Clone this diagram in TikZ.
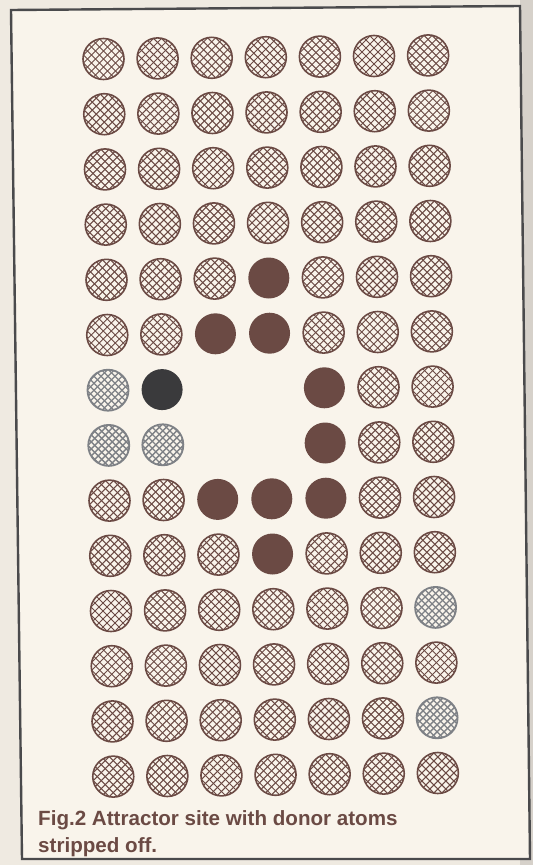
\documentclass[tikz,border=0pt]{standalone}
\usepackage{fontspec}
\setmainfont{Liberation Sans}
\definecolor{paper}{HTML}{F9F4EB}
\definecolor{outside}{HTML}{EFEAE1}
\definecolor{rstrip}{HTML}{D6D1CA}
\definecolor{frame}{HTML}{4A4A4C}
\definecolor{ink}{HTML}{6B4A44}
\definecolor{grayink}{HTML}{7E8186}
\definecolor{darkatom}{HTML}{3A3A3C}
\tikzset{
  atom/.style={circle, minimum size=41pt, inner sep=0pt, line width=1.6pt},
  hatchb/.style={atom, draw=ink, path picture={
      \foreach \k in {-6,...,6}{
        \draw[line width=1pt, draw=ink] ([shift={(\k*8-30,-30)}]path picture bounding box.center) -- ++(60,60);
        \draw[line width=1pt, draw=ink] ([shift={(\k*8-30,30)}]path picture bounding box.center) -- ++(60,-60);
      }}},
  grayb/.style={atom, draw=grayink, line width=1.8pt, path picture={
      \foreach \k in {-6,...,6}{
        \draw[line width=1.3pt, draw=grayink] ([shift={(\k*7-30,-30)}]path picture bounding box.center) -- ++(60,60);
        \draw[line width=1.3pt, draw=grayink] ([shift={(\k*7-30,30)}]path picture bounding box.center) -- ++(60,-60);
      }}},
  solidb/.style={atom, fill=ink},
  darkb/.style={atom, fill=darkatom},
  capt/.style={anchor=base west, inner sep=0pt, text=ink, font=\fontsize{20.6}{24}\selectfont\bfseries},
  % special cells
  k4-3/.style={solidb},
  k5-2/.style={solidb}, k5-3/.style={solidb},
  k6-0/.style={grayb}, k6-1/.style={darkb}, k6-4/.style={solidb},
  k7-0/.style={grayb}, k7-1/.style={grayb}, k7-4/.style={solidb},
  k8-2/.style={solidb}, k8-3/.style={solidb}, k8-4/.style={solidb},
  k9-3/.style={solidb},
  k10-6/.style={grayb},
  k12-6/.style={grayb},
  e6-2/.style={}, e6-3/.style={}, e7-2/.style={}, e7-3/.style={},
}
\begin{document}
\begin{tikzpicture}[x=1pt, y=-1pt]
\useasboundingbox (0,0) rectangle (533,865);
\fill[outside] (0,0) rectangle (533,865);
\fill[rstrip] (520,0) rectangle (533,865);
\fill[paper] (11,10) -- (520,6) -- (530,859) -- (22,859) -- cycle;
\draw[frame, line width=2.4pt, line join=miter] (11,10) -- (520,6) -- (530,859) -- (22,859) -- cycle;
\foreach \r in {0,...,13}{
  \foreach \c in {0,...,6}{
    \pgfmathsetmacro\xx{103.5+54.1*\c+0.75*\r}
    \pgfmathsetmacro\yy{59+55.2*\r-0.6*\c}
    \pgfkeysifdefined{/tikz/e\r-\c/.@cmd}{}{%
      \pgfkeysifdefined{/tikz/k\r-\c/.@cmd}{\def\sty{k\r-\c}}{\def\sty{hatchb}}%
      \node[style=\sty] (a\r-\c) at (\xx,\yy) {};
    }
  }
}
\node[capt] (cap1) at (38,825) {Fig.2 Attractor site with donor atoms};
\node[capt] (cap2) at (38,852) {stripped off.};
\end{tikzpicture}
\end{document}
